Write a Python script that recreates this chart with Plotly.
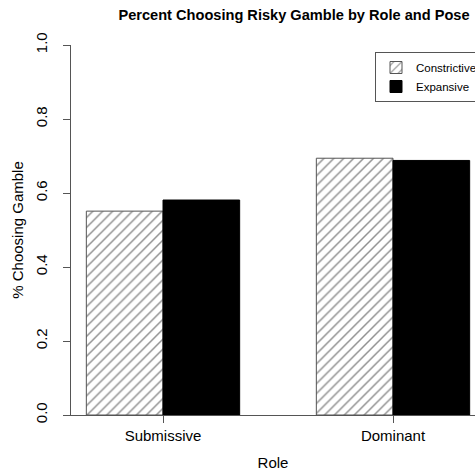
import plotly.graph_objects as go

roles = ["Submissive", "Dominant"]
constrictive = [0.551, 0.694]
expansive = [0.581, 0.688]
y_ticks = [0.0, 0.2, 0.4, 0.6, 0.8, 1.0]
y_tick_labels = ["0.0", "0.2", "0.4", "0.6", "0.8", "1.0"]

FONT = "Liberation Sans, Arial, Helvetica, sans-serif"

W, H = 475, 474
L, R, T, B = 71, 0, 45, 59
PW, PH = W - L - R, H - T - B

fig = go.Figure()
fig.add_trace(go.Bar(
    x=roles, y=constrictive, name="Constrictive",
    marker=dict(color="white",
                line=dict(color="#555555", width=1),
                pattern=dict(shape="/", fgcolor="#222222", bgcolor="white",
                             size=7, solidity=0.21)),
))
fig.add_trace(go.Bar(
    x=roles, y=expansive, name="Expansive",
    marker=dict(color="black", line=dict(color="black", width=1)),
))

fig.update_layout(
    width=W, height=H,
    margin=dict(l=L, r=R, t=T, b=B, autoexpand=False),
    paper_bgcolor="white", plot_bgcolor="white",
    barmode="group", bargap=1/3, bargroupgap=0,
    font=dict(family=FONT, color="black", size=15),
    title=dict(text="<b>Percent Choosing Risky Gamble by Role and Pose</b>",
               x=294 / W, xanchor="center", y=1 - 15 / H, yanchor="middle",
               font=dict(size=14.6, family=FONT, color="black")),
    legend=dict(x=(375 - L) / PW, xanchor="left", y=(H - B - 52) / PH, yanchor="top",
                bordercolor="#555555", borderwidth=1, bgcolor="white",
                font=dict(size=11.5, family=FONT, color="black"),
                itemwidth=30, tracegroupgap=0, traceorder="normal"),
    showlegend=True,
)
fig.update_xaxes(
    type="category", range=[-0.4, 1 + (475 - 393) / 230],
    showline=True, linecolor="#555555", linewidth=1,
    ticks="outside", ticklen=7, tickcolor="#555555",
    showgrid=False, zeroline=False,
    tickfont=dict(size=15),
    title=dict(text="Role", font=dict(size=15), standoff=14),
)
fig.update_yaxes(
    range=[0, 1],
    tickvals=y_ticks, ticktext=y_tick_labels, tickangle=-90,
    showline=True, linecolor="#555555", linewidth=1,
    ticks="outside", ticklen=7, tickcolor="#555555",
    showgrid=False, zeroline=False,
    tickfont=dict(size=15),
    ticklabelstandoff=10,
    title=dict(text="% Choosing Gamble", font=dict(size=15), standoff=5),
)

fig.write_html(
    "out.html",
    config={"displayModeBar": False, "staticPlot": True},
    post_script="document.body.style.margin='0';document.body.style.overflow='hidden';",
)
